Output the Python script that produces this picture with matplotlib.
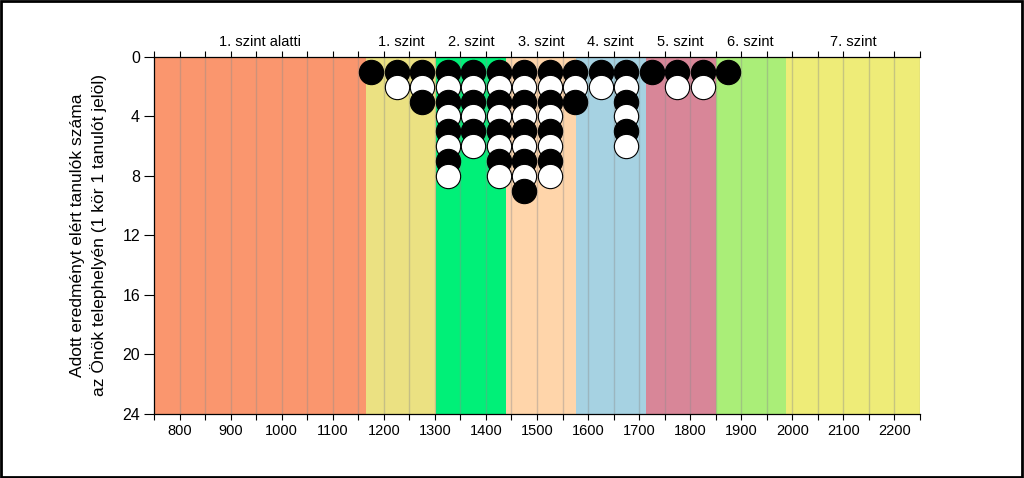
import matplotlib
matplotlib.use("Agg")
import matplotlib.pyplot as plt
import numpy as np

plt.rcParams['font.family'] = ['Liberation Sans', 'DejaVu Sans']

# Level bands (boundaries in score points)
level_names = ["1. szint alatti", "1. szint", "2. szint", "3. szint",
               "4. szint", "5. szint", "6. szint", "7. szint"]
level_edges = [750, 1165, 1302, 1439, 1576, 1713, 1850, 1987, 2250]
level_colors = ["#FA966E", "#EBE182", "#00F078", "#FFD5AA",
                "#A6D2E2", "#D88698", "#AAEE78", "#EEEC78"]

# Students per 50-point bin (bin centres)
bin_centers = [1175, 1225, 1275, 1325, 1375, 1425, 1475, 1525,
               1575, 1625, 1675, 1725, 1775, 1825, 1875]
counts = [1, 2, 3, 8, 6, 8, 9, 8, 3, 2, 6, 1, 2, 2, 1]

x_ticks = [800, 900, 1000, 1100, 1200, 1300, 1400, 1500, 1600,
           1700, 1800, 1900, 2000, 2100, 2200]
y_ticks = [0, 4, 8, 12, 16, 20, 24]

fig = plt.figure(figsize=(10.24, 4.78), dpi=100)
ax = fig.add_axes([0.1504, 0.1339, 0.8984 - 0.1504, 0.8808 - 0.1339])

xmin, xmax = level_edges[0], level_edges[-1]
ymin, ymax = 0, 24

for i in range(len(level_names)):
    ax.axvspan(level_edges[i], level_edges[i + 1], color=level_colors[i],
               lw=0, zorder=0)

# grid lines every 50 points
for gx in np.arange(800, 2251, 50):
    ax.axvline(gx, color=(0.55, 0.55, 0.55), alpha=0.4, lw=1.0, zorder=1)

# circles
for xc, n in zip(bin_centers, counts):
    for k in range(1, n + 1):
        fc = 'black' if k % 2 == 1 else 'white'
        ax.plot([xc], [k], marker='o', markersize=17.5, markerfacecolor=fc,
                markeredgecolor='black', markeredgewidth=0.8, zorder=2 + k,
                clip_on=False)

ax.set_xlim(xmin, xmax)
ax.set_ylim(ymax, ymin)

ax.set_xticks(x_ticks)
ax.set_xticklabels([str(v) for v in x_ticks], fontsize=10.5)
ax.set_xticks(np.arange(750, 2251, 50), minor=True)
ax.set_yticks(y_ticks)
ax.set_yticklabels([str(v) for v in y_ticks], fontsize=11.5)

ax.tick_params(axis='x', which='both', direction='out', length=4, width=0.8,
               top=True, bottom=True, labeltop=False, pad=3)
ax.tick_params(axis='y', which='both', direction='out', length=7, width=0.8,
               left=True, right=False, pad=3)

for side in ['left', 'top', 'bottom']:
    ax.spines[side].set_color('black')
    ax.spines[side].set_linewidth(0.9)
ax.spines['right'].set_visible(False)

# level labels at top
for i, name in enumerate(level_names):
    cx = (level_edges[i] + level_edges[i + 1]) / 2
    ax.text(cx, -0.55, name, ha='center', va='bottom', fontsize=10.5,
            transform=ax.transData, clip_on=False)

ax.set_ylabel("Adott eredményt elért tanulók száma\naz Önök telephelyén (1 kör 1 tanulót jelöl)",
              fontsize=12.5, labelpad=11, linespacing=1.35)

# outer frame of the figure
fig.patches.append(plt.Rectangle((0.001, 0.002), 0.997, 0.996, transform=fig.transFigure,
                                 fill=False, edgecolor='black', lw=2))

fig.savefig("out.png", dpi=100)
